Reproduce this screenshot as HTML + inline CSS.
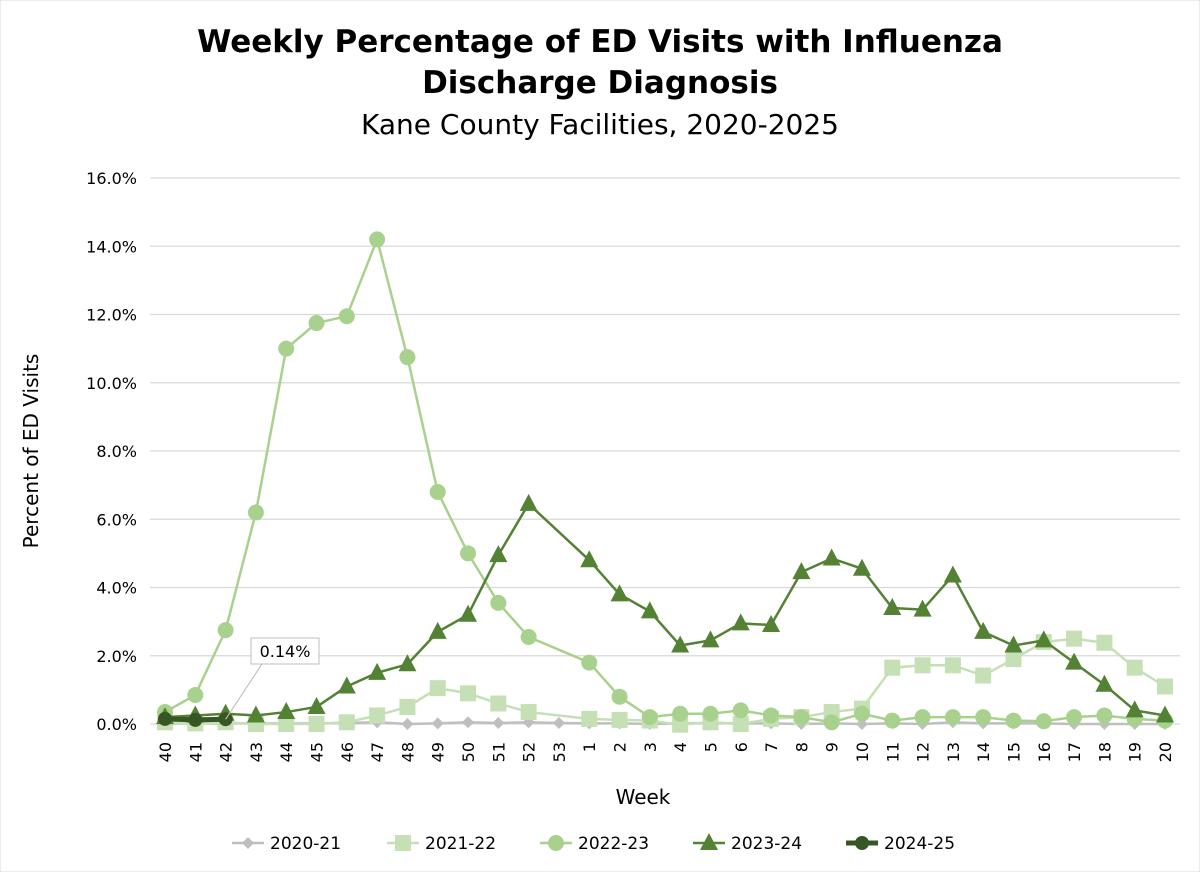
<!DOCTYPE html>
<html><head><meta charset="utf-8"><style>
body{margin:0;background:#fff;}
svg{display:block;font-family:"DejaVu Sans","Liberation Sans",sans-serif;}
</style></head><body>
<svg id="chart" width="1200" height="872" viewBox="0 0 1200 872">
<rect x="0" y="0" width="1200" height="872" fill="#fff" stroke="#d9d9d9"/>
<text x="600" y="52" text-anchor="middle" font-size="31" font-weight="bold">Weekly Percentage of ED Visits with Influenza</text>
<text x="600" y="93" text-anchor="middle" font-size="31" font-weight="bold">Discharge Diagnosis</text>
<text x="600" y="134" text-anchor="middle" font-size="28">Kane County Facilities, 2020-2025</text>
<text transform="translate(38,451) rotate(-90)" text-anchor="middle" font-size="20">Percent of ED Visits</text>
<text x="643" y="804" text-anchor="middle" font-size="20">Week</text>
<g id="grid"></g><g id="xt"></g><g id="series"></g><g id="legend"></g>
</svg>
<script>
const weeks=["40","41","42","43","44","45","46","47","48","49","50","51","52","53","1","2","3","4","5","6","7","8","9","10","11","12","13","14","15","16","17","18","19","20"];
const yTicks=[0,2,4,6,8,10,12,14,16];
const s2021=[0.02,0.02,0.02,0.02,0.02,0.02,0.03,0.05,0.0,0.02,0.05,0.03,0.05,0.03,0.02,0.02,0.0,0.02,0.03,0.02,0.02,0.0,0.02,0.0,0.02,0.0,0.05,0.02,0.02,0.02,0.0,0.0,0.0,0.0];
const s2122=[0.05,0.02,0.05,0.0,0.0,0.0,0.05,0.25,0.5,1.05,0.9,0.6,0.35,null,0.15,0.12,0.1,-0.02,0.05,0.0,0.15,0.2,0.35,0.45,1.65,1.72,1.72,1.42,1.9,2.4,2.5,2.38,1.65,1.1];
const s2223=[0.35,0.85,2.75,6.2,11.0,11.75,11.95,14.2,10.75,6.8,5.0,3.55,2.55,null,1.8,0.8,0.2,0.3,0.3,0.4,0.25,0.2,0.05,0.3,0.1,0.2,0.2,0.2,0.1,0.08,0.2,0.25,0.15,0.1];
const s2324=[0.2,0.25,0.3,0.25,0.35,0.5,1.1,1.5,1.75,2.7,3.2,4.95,6.45,null,4.8,3.8,3.3,2.3,2.45,2.95,2.9,4.45,4.85,4.55,3.4,3.35,4.35,2.7,2.3,2.45,1.8,1.15,0.4,0.25];
const s2425=[0.15,0.12,0.14];
const NS="http://www.w3.org/2000/svg";
const X0=165,DX=1000/33,Y0=724,PY=546/16;
const xs=i=>X0+i*DX, ys=v=>Y0-v*PY;
function mk(t,a,p){const e=document.createElementNS(NS,t);for(const k in a)e.setAttribute(k,a[k]);p.appendChild(e);return e;}
const grid=document.getElementById('grid');
yTicks.forEach(v=>{
 const l=mk('line',{x1:150,x2:1180,y1:ys(v),y2:ys(v),stroke:'#d9d9d9','stroke-width':1.3},grid);
 
 
 const t=mk('text',{x:137,y:ys(v)+6,'text-anchor':'end','font-size':16},grid);
 t.textContent=v.toFixed(1)+'%';
 
 
});
const xt=document.getElementById('xt');
weeks.forEach((w,i)=>{
 const t=mk('text',{transform:`translate(${xs(i)+6},742) rotate(-90)`,'text-anchor':'end','font-size':16},xt);
 t.textContent=w;
 
 
});
const sg=document.getElementById('series');
function marker(type,x,y,c,g){
 let e;
 if(type==='d')e=mk('polygon',{points:`${x},${y-6} ${x+6},${y} ${x},${y+6} ${x-6},${y}`,fill:c},g);
 else if(type==='s')e=mk('rect',{x:x-8,y:y-8,width:16,height:16,fill:c},g);
 else if(type==='c')e=mk('circle',{cx:x,cy:y,r:8,fill:c},g);
 else if(type==='t')e=mk('polygon',{points:`${x},${y-10} ${x+9},${y+7} ${x-9},${y+7}`,fill:c},g);
 else e=mk('circle',{cx:x,cy:y,r:7,fill:c},g);
 return e;
}
const series=[
 {name:'2020-21',d:s2021,c:'#bfbfbf',m:'d',w:2.5},
 {name:'2021-22',d:s2122,c:'#c5e0b4',m:'s',w:2.5},
 {name:'2022-23',d:s2223,c:'#a9d18e',m:'c',w:2.5},
 {name:'2023-24',d:s2324,c:'#548235',m:'t',w:2.5},
 {name:'2024-25',d:s2425,c:'#375623',m:'b',w:5}
];
series.forEach(s=>{
 const g=mk('g',{},sg);
 
 
 const pts=[];s.d.forEach((v,i)=>{if(v!==null)pts.push([xs(i),ys(v)]);});
 const pl=mk('polyline',{points:pts.map(p=>p.join(',')).join(' '),fill:'none',stroke:s.c,'stroke-width':s.w,'stroke-linejoin':'round'},g);
 
 
 pts.forEach(p=>{const m=marker(s.m,p[0],p[1],s.c,g);
  
  });
});
// callout
const cg=mk('g',{},sg);


mk('polyline',{points:`${xs(2)},${ys(0.14)} 262,664 285,664`,fill:'none',stroke:'#bfbfbf','stroke-width':1},cg);
mk('line',{x1:xs(2),y1:ys(0.14),x2:262,y2:664,stroke:'#bfbfbf'},cg);
mk('rect',{x:251,y:638,width:68,height:26,fill:'#fff',stroke:'#bfbfbf'},cg);
const ct=mk('text',{x:285,y:657,'text-anchor':'middle','font-size':16},cg);ct.textContent='0.14%';
// legend
const lg=document.getElementById('legend');
const lx=[232,387,540,693,846];
series.forEach((s,i)=>{
 const g=mk('g',{},lg);
 
 
 mk('line',{x1:lx[i],x2:lx[i]+32,y1:843,y2:843,stroke:s.c,'stroke-width':s.w},g);
 marker(s.m,lx[i]+16,843,s.c,g);
 const t=mk('text',{x:lx[i]+38,y:849,'font-size':17},g);t.textContent=s.name;
});
</script>
</body></html>
